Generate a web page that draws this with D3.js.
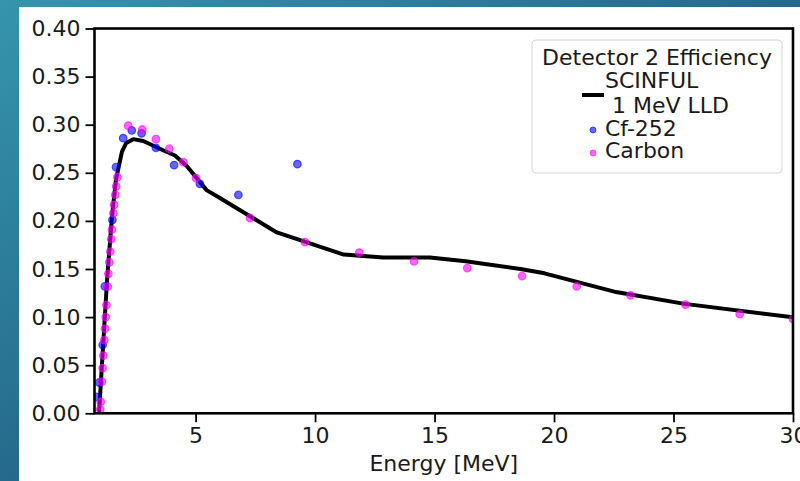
<!DOCTYPE html>
<html><head><meta charset="utf-8">
<script src="https://cdn.jsdelivr.net/npm/d3@7"></script>
<style>body{margin:0;padding:0;overflow:hidden;} svg{display:block;} text{font-family:"DejaVu Sans",sans-serif;}</style>
</head><body>
<svg id="c" width="800" height="481"></svg>
<script>
// SCINFUL 1 MeV LLD curve
const scinfulE = [0.96,1.1,1.3,1.5,1.67,1.92,2.1,2.39,2.81,3.5,4.14,4.63,5.46,6.0,8.4,11.2,12.85,14.8,16.3,18.6,19.6,22.6,25.4,30];
const scinfulEff = [0,0.058,0.14,0.204,0.243,0.272,0.281,0.285,0.283,0.275,0.268,0.257,0.232,0.224,0.188,0.165,0.162,0.162,0.158,0.150,0.1455,0.126,0.114,0.0997];
// Cf-252 measurements
const cfE = [0.86,0.97,1.11,1.20,1.52,1.67,1.97,2.33,2.74,3.34,4.10,5.18,6.79,9.26];
const cfEff = [0.017,0.032,0.071,0.132,0.201,0.256,0.286,0.294,0.291,0.276,0.258,0.2385,0.227,0.259];
// Carbon measurements
const cE = [1.01,1.03,1.08,1.11,1.14,1.18,1.21,1.24,1.27,1.32,1.35,1.39,1.43,1.47,1.50,1.56,1.59,1.64,1.68,1.73,2.18,2.77,3.34,3.90,4.49,5.02,7.28,9.58,11.85,14.14,16.37,18.66,20.95,23.2,25.5,27.77,30.0];
const cEff = [0.004,0.012,0.033,0.047,0.060,0.076,0.088,0.100,0.1125,0.1316,0.145,0.157,0.168,0.181,0.191,0.208,0.2167,0.227,0.236,0.2455,0.299,0.295,0.285,0.275,0.261,0.2445,0.203,0.178,0.167,0.158,0.151,0.1427,0.132,0.1226,0.113,0.103,0.098];
const xTicks = [5,10,15,20,25,30];
const yTicks = [0,0.05,0.10,0.15,0.20,0.25,0.30,0.35,0.40];
const xLabel = "Energy [MeV]";
const legendTitle = "Detector 2 Efficiency";
const legendLabels = ["SCINFUL", " 1 MeV LLD", "Cf-252", "Carbon"];

const FS = "22px";
const svg = d3.select("#c");
const defs = svg.append("defs");
const g = defs.append("linearGradient").attr("id","bg").attr("x1","0").attr("y1","0").attr("x2","1").attr("y2","1");
g.append("stop").attr("offset","0").attr("stop-color","#3595ac");
g.append("stop").attr("offset","0.5").attr("stop-color","#256a8c");
g.append("stop").attr("offset","1").attr("stop-color","#1d4d72");
svg.append("rect").attr("width",800).attr("height",481).attr("fill","url(#bg)");
svg.append("rect").attr("x",19).attr("y",7).attr("width",781).attr("height",474).attr("fill","#fff");

const L=94.5,R=793,T=28.5,B=413.3;
const x = d3.scaleLinear().domain([0.77,30]).range([L,R]);
const y = d3.scaleLinear().domain([0,0.40]).range([B,T]);
defs.append("clipPath").attr("id","clip").append("rect").attr("x",L).attr("y",T).attr("width",R-L).attr("height",B-T);

const plot = svg.append("g").attr("clip-path","url(#clip)");
const line = d3.line().x((d,i)=>x(scinfulE[i])).y((d,i)=>y(scinfulEff[i]));
plot.append("path").datum(scinfulEff).attr("d",line).attr("fill","none").attr("stroke","#000").attr("stroke-width",4).attr("stroke-linejoin","round");

function dots(xs,ys,col){
  plot.selectAll(null).data(ys).enter().append("circle")
   .attr("cx",(d,i)=>x(xs[i])).attr("cy",d=>y(d)).attr("r",3.8)
   .attr("fill",col).attr("fill-opacity",0.6).attr("stroke",col).attr("stroke-opacity",0.6).attr("stroke-width",1.2);
}
dots(cfE,cfEff,"#0000ff");
dots(cE,cEff,"#ff00ff");

// axes
const xa = svg.append("g").attr("transform",`translate(0,${B})`).call(d3.axisBottom(x).tickValues(xTicks).tickFormat(d3.format("d")).tickSize(9).tickPadding(5));
const ya = svg.append("g").attr("transform",`translate(${L},0)`).call(d3.axisLeft(y).tickValues(yTicks).tickFormat(d3.format(".2f")).tickSize(9).tickPadding(5));
[xa,ya].forEach(a=>{a.select(".domain").remove();a.selectAll(".tick line").attr("stroke","#000").attr("stroke-width",1.8);a.selectAll("text").attr("font-size",FS).attr("fill","#1a1a1a").style("font-family","DejaVu Sans");});
svg.append("rect").attr("x",L).attr("y",T).attr("width",R-L).attr("height",B-T).attr("fill","none").attr("stroke","#000").attr("stroke-width",2.6);

svg.append("text").attr("x",(L+R)/2).attr("y",471).attr("text-anchor","middle").attr("font-size",FS).attr("fill","#1a1a1a").text(xLabel);

// legend
const lg = svg.append("g");
lg.append("rect").attr("x",532).attr("y",40).attr("width",250).attr("height",133).attr("rx",4).attr("fill","#fff").attr("fill-opacity",0.8).attr("stroke","#d6d6d6").attr("stroke-width",1);
lg.append("text").attr("x",657).attr("y",65).attr("text-anchor","middle").attr("font-size",FS).attr("fill","#1a1a1a").text(legendTitle);
lg.append("text").attr("x",605).attr("y",88).attr("font-size",FS).attr("fill","#1a1a1a").style("white-space","pre").text(legendLabels[0]);
lg.append("text").attr("x",605).attr("y",113).attr("font-size",FS).attr("fill","#1a1a1a").style("white-space","pre").text(legendLabels[1]);
lg.append("line").attr("x1",582).attr("x2",604).attr("y1",95).attr("y2",95).attr("stroke","#000").attr("stroke-width",4);
lg.append("circle").attr("cx",593).attr("cy",130).attr("r",3).attr("fill","#0000ff").attr("fill-opacity",0.6).attr("stroke","#0000ff").attr("stroke-opacity",0.6);
lg.append("text").attr("x",605).attr("y",136).attr("font-size",FS).attr("fill","#1a1a1a").text(legendLabels[2]);
lg.append("circle").attr("cx",593).attr("cy",153).attr("r",3).attr("fill","#ff00ff").attr("fill-opacity",0.6).attr("stroke","#ff00ff").attr("stroke-opacity",0.6);
lg.append("text").attr("x",605).attr("y",158).attr("font-size",FS).attr("fill","#1a1a1a").text(legendLabels[3]);
</script>
</body></html>
